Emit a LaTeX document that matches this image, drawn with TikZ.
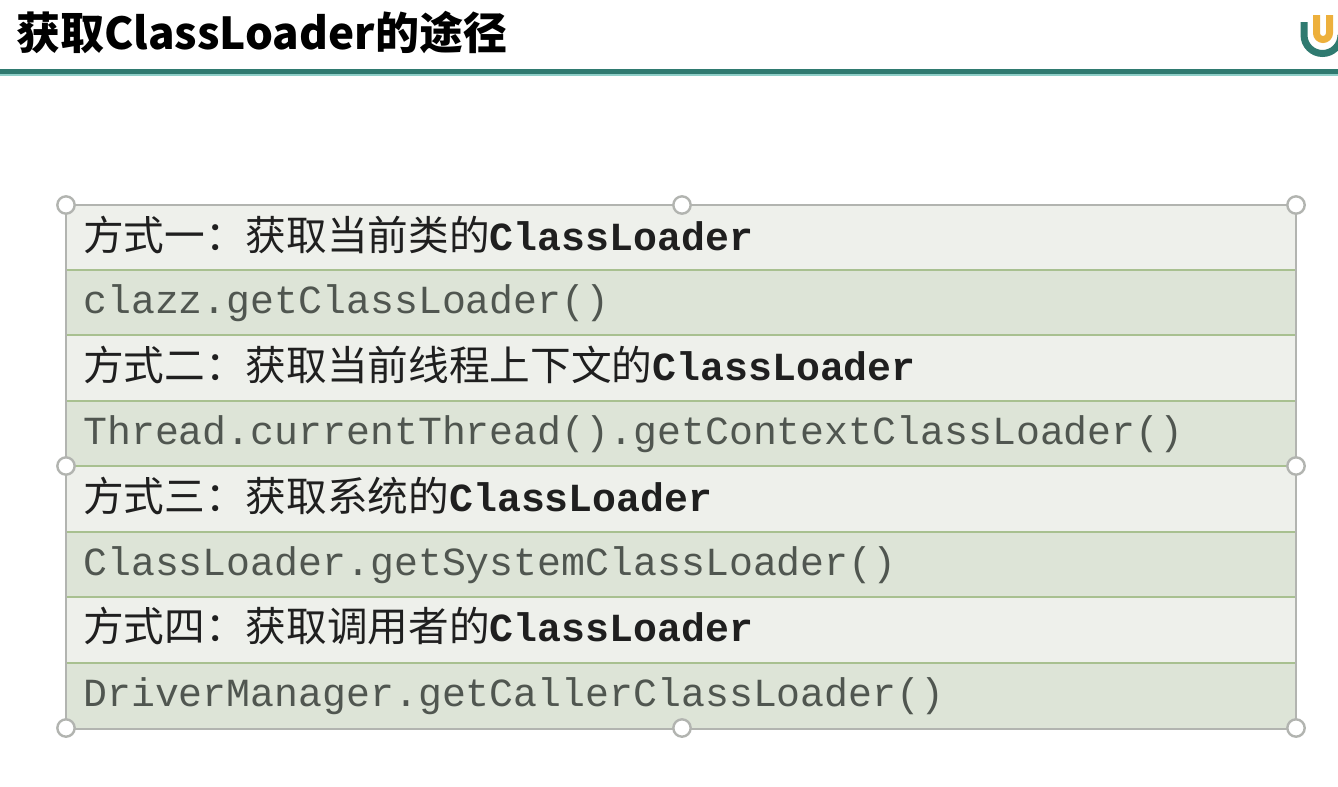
\documentclass[tikz,border=0pt]{standalone}
\usepackage{fontspec}
\setmainfont{Liberation Sans}
\setmonofont{Liberation Mono}
\newfontfamily\cjk{Noto Sans CJK SC}
\definecolor{rowlight}{HTML}{EEF0EB}
\definecolor{rowdark}{HTML}{DDE4D7}
\definecolor{rowline}{HTML}{A8C090}
\definecolor{frameline}{HTML}{B2B4B0}
\definecolor{teal1}{HTML}{2F7A70}
\definecolor{teal2}{HTML}{8FCFC8}
\definecolor{logoorange}{HTML}{EDB03C}
\definecolor{codegrey}{HTML}{505650}
\tikzset{
  x=0.75pt,y=-0.75pt,
  lightrow/.style={draw=none,fill=rowlight,minimum width=922.5pt,minimum height=48.75pt,anchor=north west,inner sep=0pt,outer sep=0pt},
  darkrow/.style={lightrow,fill=rowdark},
  headtext/.style={anchor=base west,inner sep=0pt,text=black!88,font=\fontsize{30.5pt}{30.5pt}\selectfont},
  codetext/.style={anchor=base west,inner sep=0pt,text=codegrey,font=\fontsize{29.9pt}{30pt}\selectfont\ttfamily},
  handle/.style={circle,draw=frameline,line width=1.8pt,fill=white,minimum size=13pt,inner sep=0pt},
  rowrule/.style={draw=rowline,line width=1.2pt},
  framerule/.style={draw=frameline,line width=1.6pt},
  logostroke/.style={line width=5.25pt,line cap=butt},
}
\newcommand{\cl}{{\fontsize{29.9pt}{30pt}\selectfont\ttfamily\bfseries ClassLoader}}
\begin{document}
\begin{tikzpicture}
\useasboundingbox (0,0) rectangle (1338,786);
\fill[white] (0,0) rectangle (1338,786);
% title
\node[anchor=base west,inner sep=0pt,text=black,font=\fontsize{33pt}{33pt}\selectfont\cjk\bfseries] (title) at (16,49) {获取ClassLoader的途径};
\fill[teal1] (0,69) rectangle (1338,74);
\fill[teal2] (0,74) rectangle (1338,76);
% logo
\begin{scope}
\clip (1290,0) rectangle (1338,66);
\draw[logostroke,draw=teal1] (1304,22) -- (1304,35) arc[start angle=180,end angle=0,radius=18.5];
\draw[logostroke,draw=logoorange] (1316.5,15) -- (1316.5,33) arc[start angle=180,end angle=0,radius=6.5] -- (1329.5,15);
\end{scope}
% rows
\node[lightrow,minimum height=48.75pt] (r1) at (66,205) {};
\node[darkrow] (r2) at (66,270) {};
\node[lightrow] (r3) at (66,335) {};
\node[darkrow] (r4) at (66,401) {};
\node[lightrow] (r5) at (66,466) {};
\node[darkrow] (r6) at (66,532) {};
\node[lightrow] (r7) at (66,597) {};
\node[darkrow,minimum height=49.5pt] (r8) at (66,663) {};
% rules
\draw[rowrule] (r2.north west) -- (r2.north east);
\draw[rowrule] (r3.north west) -- (r3.north east);
\draw[rowrule] (r4.north west) -- (r4.north east);
\draw[rowrule] (r5.north west) -- (r5.north east);
\draw[rowrule] (r6.north west) -- (r6.north east);
\draw[rowrule] (r7.north west) -- (r7.north east);
\draw[rowrule] (r8.north west) -- (r8.north east);
\draw[framerule] (r1.north west) rectangle (r8.south east);
% texts
\node[headtext] (t1) at (83,250) {\cjk 方式一：获取当前类的\cl};
\node[codetext] (t2) at (83,313) {clazz.getClassLoader()};
\node[headtext] (t3) at (83,380) {\cjk 方式二：获取当前线程上下文的\cl};
\node[codetext] (t4) at (83,444) {Thread.currentThread().getContextClassLoader()};
\node[headtext] (t5) at (83,511) {\cjk 方式三：获取系统的\cl};
\node[codetext] (t6) at (83,575) {ClassLoader.getSystemClassLoader()};
\node[headtext] (t7) at (83,641) {\cjk 方式四：获取调用者的\cl};
\node[codetext] (t8) at (83,706) {DriverManager.getCallerClassLoader()};
% handles
\node[handle] (h1) at (66,205) {};
\node[handle] (h2) at (682,205) {};
\node[handle] (h3) at (1296,205) {};
\node[handle] (h4) at (66,466) {};
\node[handle] (h5) at (1296,466) {};
\node[handle] (h6) at (66,728) {};
\node[handle] (h7) at (682,728) {};
\node[handle] (h8) at (1296,728) {};
\end{tikzpicture}
\end{document}
